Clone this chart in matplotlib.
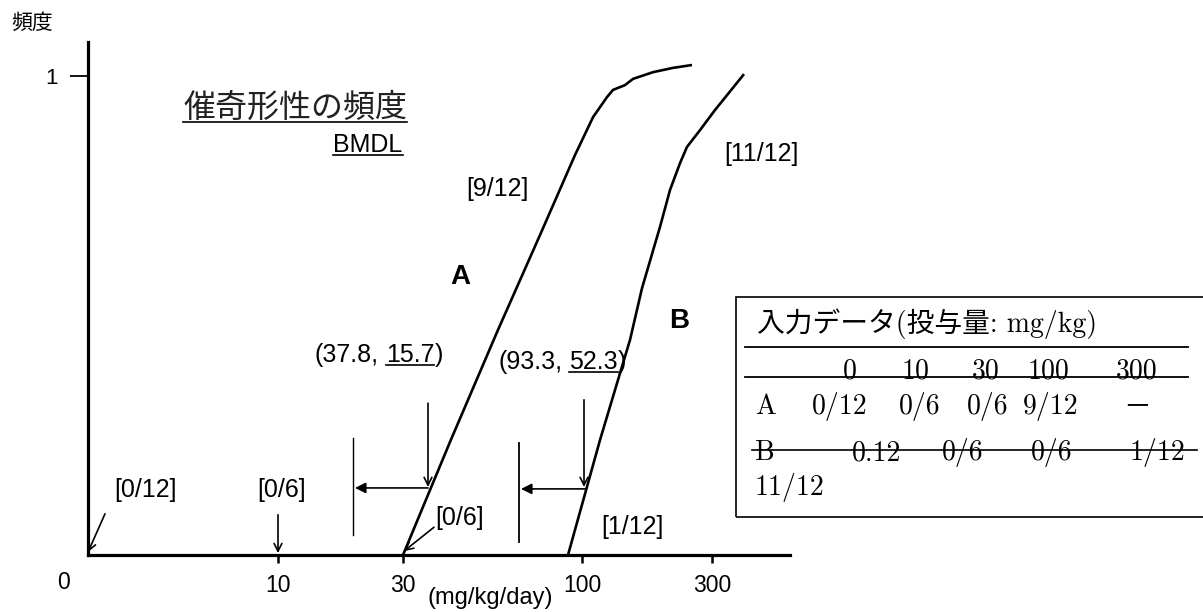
import numpy as np
import matplotlib.pyplot as plt

plt.rcParams['font.family'] = ['Liberation Sans', 'Noto Sans CJK JP']

# schematic units: x = distance from the y axis, y = frequency (0..1)
tick_pos = [190, 315, 494, 624]
tick_labels = ["10", "30", "100", "300"]

curve_a_x = [315, 362, 410, 452, 487, 505, 512, 519, 525, 537, 545, 565, 585, 604]
curve_a_y = [0.0, 0.236, 0.470, 0.668, 0.835, 0.914, 0.935, 0.956, 0.971, 0.981, 0.994, 1.008, 1.017, 1.023]
curve_b_x = [480, 512, 542, 554, 572, 582, 592, 599, 612, 627, 656]
curve_b_y = [0.0, 0.240, 0.449, 0.557, 0.685, 0.762, 0.818, 0.852, 0.887, 0.929, 1.004]

# table values
doses = ["0", "10", "30", "100", "300"]
row_a = ["0/12", "0/6", "0/6", "9/12", "－"]
row_b = ["0.12", "0/6", "0/6", "1/12"]
row_b_wrap = "11/12"

bmdl_a = ("37.8", "15.7")
bmdl_b = ("93.3", "52.3")

fig = plt.figure(figsize=(12.03, 6.12), dpi=100)
ax = fig.add_axes([0, 0, 1, 1])
ax.set_xlim(-88, 1115)
ax.set_ylim(-0.119, 1.1587)
ax.patch.set_visible(False)

for s in ['top', 'right']:
    ax.spines[s].set_visible(False)
ax.spines['left'].set_position(('data', 0))
ax.spines['bottom'].set_position(('data', 0))
ax.spines['left'].set_bounds(0, 1.071)
ax.spines['bottom'].set_bounds(0, 702)
ax.spines['left'].set_linewidth(2.3)
ax.spines['bottom'].set_linewidth(2.3)

ax.set_yticks([1], ["1"])
ax.set_xticks(tick_pos, tick_labels)
ax.tick_params(axis='y', length=13, width=1.3, pad=9, labelsize=16)
ax.tick_params(axis='x', length=6, width=1.8, pad=8, labelsize=16.5)

lw = 1.9
ax.plot(curve_a_x, curve_a_y, color='black', lw=lw, solid_capstyle='butt')
ax.plot(curve_b_x, curve_b_y, color='black', lw=lw, solid_capstyle='butt')

ax.text(-25, -0.058, "0", ha='center', va='center', fontsize=16.5)
ax.text(402, -0.090, "(mg/kg/day)", ha='center', va='center', fontsize=17)
ax.text(-56, 1.111, "頻度", ha='center', va='center', fontsize=15,
        family=['Noto Sans CJK JP'])

title = ax.text(207, 0.933, "催奇形性の頻度", ha='center', va='center', fontsize=23,
                family=['Noto Sans CJK JP'], color='#222222')
bmdl = ax.text(280, 0.856, "BMDL", ha='center', va='center', fontsize=18)

fs = 18
ax.text(409, 0.764, "[9/12]", ha='center', va='center', fontsize=fs)
ax.text(673, 0.837, "[11/12]", ha='center', va='center', fontsize=fs)
ax.text(372, 0.580, "A", ha='center', va='center', fontsize=20, fontweight='bold')
ax.text(591, 0.489, "B", ha='center', va='center', fontsize=20, fontweight='bold')
ax.text(58, 0.136, "[0/12]", ha='center', va='center', fontsize=fs)
ax.text(194, 0.136, "[0/6]", ha='center', va='center', fontsize=fs)
ax.text(372, 0.077, "[0/6]", ha='center', va='center', fontsize=fs)
ax.text(544, 0.058, "[1/12]", ha='center', va='center', fontsize=fs)

# BMDL labels with underlined second value
under = []
for (xv, yv), (x, y) in [(bmdl_a, (227, 0.418)), (bmdl_b, (410, 0.403))]:
    t1 = ax.text(x, y, "(" + xv + ",", ha='left', va='center', fontsize=fs)
    t2 = ax.annotate(yv, xy=(1, 0), xycoords=t1, xytext=(5, 0),
                     textcoords='offset points', ha='left', va='bottom', fontsize=fs)
    ax.annotate(")", xy=(1, 0), xycoords=t2, ha='left', va='bottom', fontsize=fs)
    under.append(t2)

# arrows
open_head = dict(arrowstyle='->', color='black', lw=1.2, shrinkA=0, shrinkB=0,
                 mutation_scale=14)
fill_head = dict(arrowstyle='-|>', color='black', lw=1.2, shrinkA=0, shrinkB=0,
                 mutation_scale=16)
ax.annotate("", xy=(0, 0.006), xytext=(17, 0.086), arrowprops=open_head)
ax.annotate("", xy=(190, 0.004), xytext=(190, 0.084), arrowprops=open_head)
ax.annotate("", xy=(316, 0.008), xytext=(346, 0.058), arrowprops=open_head)
ax.annotate("", xy=(340, 0.142), xytext=(340, 0.317), arrowprops=open_head)
ax.annotate("", xy=(496, 0.142), xytext=(496, 0.324), arrowprops=open_head)
ax.annotate("", xy=(267, 0.140), xytext=(340, 0.140), arrowprops=fill_head)
ax.annotate("", xy=(433, 0.138), xytext=(498, 0.138), arrowprops=fill_head)
ax.plot([265, 265], [0.042, 0.244], color='black', lw=1.0)
ax.plot([431, 431], [0.027, 0.234], color='black', lw=1.3)

# input-data table
tfam = ['cmr10', 'Noto Sans CJK JP']
tfs = 20
ax.add_patch(plt.Rectangle((648, 0.079), 480, 0.460, fill=False, lw=1.2,
                           edgecolor='black', clip_on=False))
ax.text(669, 0.482, "入力データ(投与量: mg/kg)", ha='left', va='center',
        fontsize=tfs, family=tfam)
ax.plot([657, 1100], [0.434, 0.434], color='black', lw=1.3)
ax.plot([657, 1100], [0.372, 0.372], color='black', lw=1.3)
for d, cx in zip(doses, [762, 827, 898, 960, 1049]):
    ax.text(cx, 0.368, d, ha='center', va='baseline', fontsize=tfs, family=tfam)
ax.text(678, 0.309, "A", ha='center', va='center', fontsize=tfs, family=tfam)
for v, cx in zip(row_a, [752, 832, 900, 963, 1049]):
    ax.text(cx, 0.309, v, ha='center', va='center', fontsize=tfs, family=tfam)
ax.text(677, 0.213, "B", ha='center', va='center', fontsize=tfs, family=tfam)
for v, cx in zip(row_b, [789, 875, 964, 1069]):
    ax.text(cx, 0.213, v, ha='center', va='center', fontsize=tfs, family=tfam)
ax.plot([664, 1109], [0.219, 0.219], color='black', lw=1.2)
ax.text(667, 0.140, row_b_wrap, ha='left', va='center', fontsize=tfs, family=tfam)

# underlines
fig.canvas.draw()
r = fig.canvas.get_renderer()
inv = ax.transData.inverted()
for t in [title, bmdl] + under:
    bb = t.get_window_extent(r)
    (xa, ya), (xb, _) = inv.transform([(bb.x0, bb.y0), (bb.x1, bb.y0)])
    ax.plot([xa, xb], [ya + 0.004, ya + 0.004], color='black', lw=1.2)

fig.savefig("out.png", dpi=100)
